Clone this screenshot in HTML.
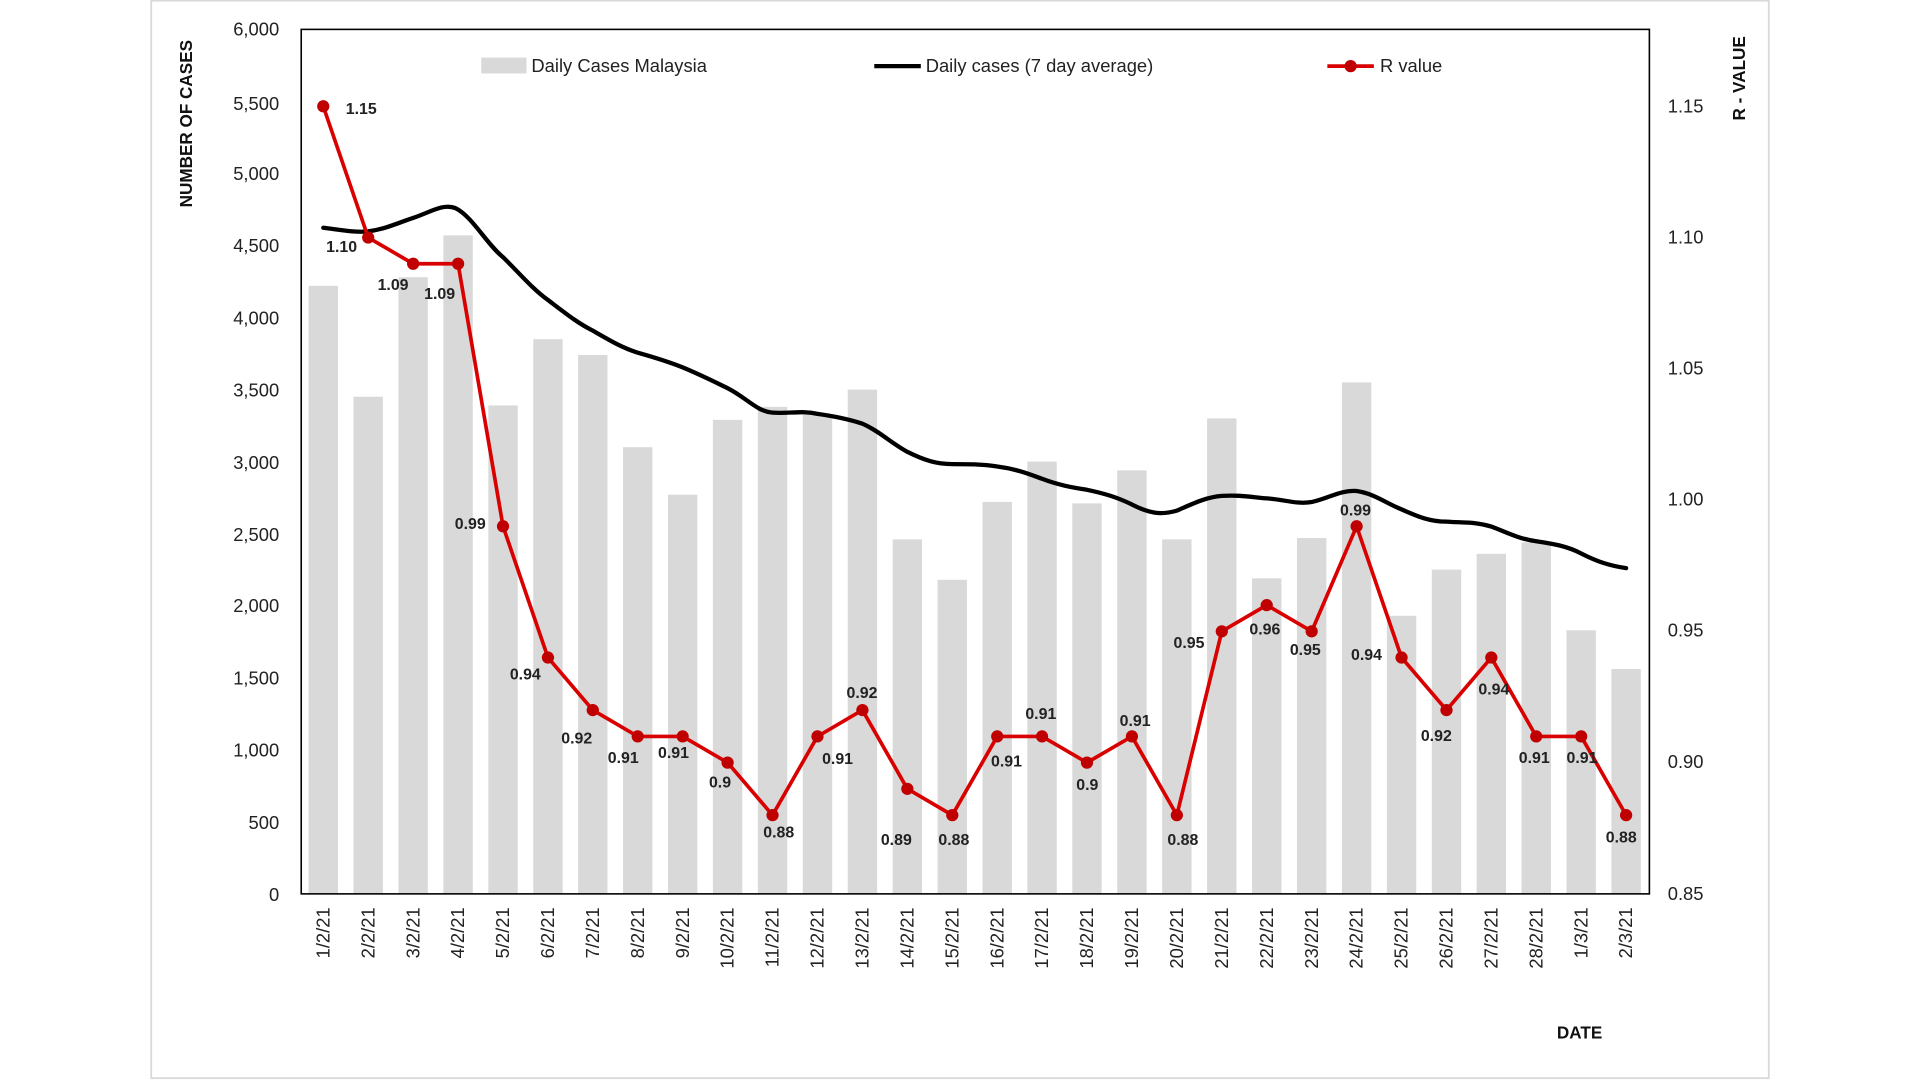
<!DOCTYPE html>
<html><head><meta charset="utf-8"><style>html,body{margin:0;padding:0;background:#fff;}svg{display:block}</style></head>
<body>
<svg width="1920" height="1080" viewBox="0 0 1568 882" preserveAspectRatio="none" xmlns="http://www.w3.org/2000/svg" font-family="Liberation Sans, sans-serif">
<rect x="0" y="0" width="1568" height="882" fill="#fff"/>
<rect x="123.5" y="0.5" width="1321" height="880" fill="#fff" stroke="#d9d9d9" stroke-width="1.5"/>
<!-- bars -->
<g fill="#d9d9d9">
<rect x="252" y="233.4" width="24" height="496.6"/>
<rect x="288.7" y="324" width="24" height="406"/>
<rect x="325.4" y="226.4" width="24" height="503.6"/>
<rect x="362.1" y="192.2" width="24" height="537.8"/>
<rect x="398.8" y="331.1" width="24" height="398.9"/>
<rect x="435.5" y="277" width="24" height="453"/>
<rect x="472.1" y="289.9" width="24" height="440.1"/>
<rect x="508.8" y="365.2" width="24" height="364.8"/>
<rect x="545.5" y="404" width="24" height="326"/>
<rect x="582.2" y="342.9" width="24" height="387.1"/>
<rect x="618.9" y="332.3" width="24" height="397.7"/>
<rect x="655.6" y="338.2" width="24" height="391.8"/>
<rect x="692.3" y="318.2" width="24" height="411.8"/>
<rect x="729" y="440.5" width="24" height="289.5"/>
<rect x="765.7" y="473.5" width="24" height="256.5"/>
<rect x="802.4" y="409.9" width="24" height="320.1"/>
<rect x="839" y="377" width="24" height="353"/>
<rect x="875.7" y="411.1" width="24" height="318.9"/>
<rect x="912.4" y="384.1" width="24" height="345.9"/>
<rect x="949.1" y="440.5" width="24" height="289.5"/>
<rect x="985.8" y="341.7" width="24" height="388.3"/>
<rect x="1022.5" y="472.3" width="24" height="257.7"/>
<rect x="1059.2" y="439.4" width="24" height="290.6"/>
<rect x="1095.9" y="312.3" width="24" height="417.7"/>
<rect x="1132.6" y="502.9" width="24" height="227.1"/>
<rect x="1169.3" y="465.2" width="24" height="264.8"/>
<rect x="1205.9" y="452.3" width="24" height="277.7"/>
<rect x="1242.6" y="442.9" width="24" height="287.1"/>
<rect x="1279.3" y="514.7" width="24" height="215.3"/>
<rect x="1316" y="546.4" width="24" height="183.6"/>
</g>
<!-- frame -->
<rect x="246" y="24" width="1101" height="706" fill="none" stroke="#000" stroke-width="1.3"/>
<!-- 7-day avg -->
<path d="M264,186 C280,188 290,190 300.7,189 C315,187 325,182 337.4,178 C352,173 362,166 372,170 C385,176 398,200 410.8,210 C425,224 435,236 447.5,245 C462,256 472,264 484.1,270 C498,278 508,284 520.8,288 C535,292 545,295 557.5,300 C572,306 582,311 594.2,317 C610,325 618,336 630.9,337 C645,338 655,335 667.6,338 C682,340 692,342 704.3,346 C718,352 728,362 741,369 C755,376 765,379 777.7,379 C790,379 802,379 814.4,381 C830,383 840,387 851,391 C864,396 875,398 887.7,400 C902,403 912,406 924.4,412 C938,419 948,421 961.1,417 C975,411 985,406 997.8,405 C1012,404 1022,406 1034.5,407 C1049,408 1059,412 1071.2,410 C1085,407 1095,400 1107.9,401 C1122,403 1132,411 1144.6,416 C1158,422 1168,426 1181.3,426 C1195,427 1205,426 1217.9,430 C1231,435 1240,440 1254.6,442 C1268,444 1280,446 1291.3,452 C1305,459 1315,462 1328,464" fill="none" stroke="#000" stroke-width="3.5" stroke-linecap="round"/>
<!-- R value -->
<polyline points="264,86.8 300.7,194 337.4,215.4 374.1,215.4 410.8,429.8 447.5,537 484.1,579.9 520.8,601.4 557.5,601.4 594.2,622.8 630.9,665.7 667.6,601.4 704.3,579.9 741,644.2 777.7,665.7 814.4,601.4 851,601.4 887.7,622.8 924.4,601.4 961.1,665.7 997.8,515.6 1034.5,494.2 1071.2,515.6 1107.9,429.8 1144.6,537 1181.3,579.9 1217.9,537 1254.6,601.4 1291.3,601.4 1328,665.7" fill="none" stroke="#d90000" stroke-width="3" stroke-linejoin="round"/>
<g fill="#c00000">
<circle cx="264" cy="86.8" r="5"/><circle cx="300.7" cy="194" r="5"/><circle cx="337.4" cy="215.4" r="5"/><circle cx="374.1" cy="215.4" r="5"/><circle cx="410.8" cy="429.8" r="5"/><circle cx="447.5" cy="537" r="5"/><circle cx="484.1" cy="579.9" r="5"/><circle cx="520.8" cy="601.4" r="5"/><circle cx="557.5" cy="601.4" r="5"/><circle cx="594.2" cy="622.8" r="5"/><circle cx="630.9" cy="665.7" r="5"/><circle cx="667.6" cy="601.4" r="5"/><circle cx="704.3" cy="579.9" r="5"/><circle cx="741" cy="644.2" r="5"/><circle cx="777.7" cy="665.7" r="5"/><circle cx="814.4" cy="601.4" r="5"/><circle cx="851" cy="601.4" r="5"/><circle cx="887.7" cy="622.8" r="5"/><circle cx="924.4" cy="601.4" r="5"/><circle cx="961.1" cy="665.7" r="5"/><circle cx="997.8" cy="515.6" r="5"/><circle cx="1034.5" cy="494.2" r="5"/><circle cx="1071.2" cy="515.6" r="5"/><circle cx="1107.9" cy="429.8" r="5"/><circle cx="1144.6" cy="537" r="5"/><circle cx="1181.3" cy="579.9" r="5"/><circle cx="1217.9" cy="537" r="5"/><circle cx="1254.6" cy="601.4" r="5"/><circle cx="1291.3" cy="601.4" r="5"/><circle cx="1328" cy="665.7" r="5"/>
</g>
<!-- data labels -->
<g font-size="13" font-weight="bold" fill="#222" text-anchor="middle">
<text x="295" y="93">1.15</text><text x="279" y="206">1.10</text><text x="321" y="237">1.09</text><text x="359" y="244">1.09</text>
<text x="384" y="432">0.99</text><text x="429" y="555">0.94</text><text x="471" y="607">0.92</text><text x="509" y="623">0.91</text>
<text x="550" y="619">0.91</text><text x="588" y="643">0.9</text><text x="636" y="684">0.88</text><text x="684" y="624">0.91</text>
<text x="704" y="570">0.92</text><text x="732" y="690">0.89</text><text x="779" y="690">0.88</text><text x="822" y="626">0.91</text>
<text x="850" y="587">0.91</text><text x="888" y="645">0.9</text><text x="927" y="593">0.91</text><text x="966" y="690">0.88</text>
<text x="971" y="529">0.95</text><text x="1033" y="518">0.96</text><text x="1066" y="535">0.95</text><text x="1107" y="421">0.99</text>
<text x="1116" y="539">0.94</text><text x="1173" y="605">0.92</text><text x="1220" y="567">0.94</text><text x="1253" y="623">0.91</text>
<text x="1292" y="623">0.91</text><text x="1324" y="688">0.88</text>
</g>
<!-- left axis -->
<g font-size="15" fill="#222" text-anchor="end">
<text x="228" y="29">6,000</text><text x="228" y="90">5,500</text><text x="228" y="147">5,000</text><text x="228" y="206">4,500</text>
<text x="228" y="265">4,000</text><text x="228" y="324">3,500</text><text x="228" y="383">3,000</text><text x="228" y="442">2,500</text>
<text x="228" y="500">2,000</text><text x="228" y="559">1,500</text><text x="228" y="618">1,000</text><text x="228" y="677">500</text><text x="228" y="736">0</text>
</g>
<g font-size="15" fill="#222">
<text x="1362" y="92">1.15</text><text x="1362" y="199">1.10</text><text x="1362" y="306">1.05</text><text x="1362" y="413">1.00</text>
<text x="1362" y="520">0.95</text><text x="1362" y="627">0.90</text><text x="1362" y="735">0.85</text>
</g>
<!-- x labels -->
<g font-size="15" fill="#222" text-anchor="end">
<text transform="translate(269,741) rotate(-90)">1/2/21</text><text transform="translate(305.7,741) rotate(-90)">2/2/21</text><text transform="translate(342.4,741) rotate(-90)">3/2/21</text><text transform="translate(379.1,741) rotate(-90)">4/2/21</text><text transform="translate(415.8,741) rotate(-90)">5/2/21</text><text transform="translate(452.5,741) rotate(-90)">6/2/21</text><text transform="translate(489.1,741) rotate(-90)">7/2/21</text><text transform="translate(525.8,741) rotate(-90)">8/2/21</text><text transform="translate(562.5,741) rotate(-90)">9/2/21</text><text transform="translate(599.2,741) rotate(-90)">10/2/21</text><text transform="translate(635.9,741) rotate(-90)">11/2/21</text><text transform="translate(672.6,741) rotate(-90)">12/2/21</text><text transform="translate(709.3,741) rotate(-90)">13/2/21</text><text transform="translate(746,741) rotate(-90)">14/2/21</text><text transform="translate(782.7,741) rotate(-90)">15/2/21</text><text transform="translate(819.4,741) rotate(-90)">16/2/21</text><text transform="translate(856,741) rotate(-90)">17/2/21</text><text transform="translate(892.7,741) rotate(-90)">18/2/21</text><text transform="translate(929.4,741) rotate(-90)">19/2/21</text><text transform="translate(966.1,741) rotate(-90)">20/2/21</text><text transform="translate(1002.8,741) rotate(-90)">21/2/21</text><text transform="translate(1039.5,741) rotate(-90)">22/2/21</text><text transform="translate(1076.2,741) rotate(-90)">23/2/21</text><text transform="translate(1112.9,741) rotate(-90)">24/2/21</text><text transform="translate(1149.6,741) rotate(-90)">25/2/21</text><text transform="translate(1186.3,741) rotate(-90)">26/2/21</text><text transform="translate(1222.9,741) rotate(-90)">27/2/21</text><text transform="translate(1259.6,741) rotate(-90)">28/2/21</text><text transform="translate(1296.3,741) rotate(-90)">1/3/21</text><text transform="translate(1333,741) rotate(-90)">2/3/21</text>
</g>
<!-- titles -->
<text transform="translate(157,101) rotate(-90)" font-size="14" font-weight="bold" text-anchor="middle" fill="#111">NUMBER  OF CASES</text>
<text transform="translate(1425,64) rotate(-90)" font-size="14" font-weight="bold" text-anchor="middle" fill="#111">R - VALUE</text>
<text x="1290" y="848" font-size="14" font-weight="bold" text-anchor="middle" fill="#111">DATE</text>
<!-- legend -->
<rect x="393" y="47" width="37" height="13" fill="#d9d9d9"/>
<text x="434" y="59" font-size="15" fill="#222">Daily Cases Malaysia</text>
<line x1="714" y1="54" x2="752" y2="54" stroke="#000" stroke-width="3.5"/>
<text x="756" y="59" font-size="15" fill="#222">Daily cases (7 day average)</text>
<line x1="1084" y1="54" x2="1122" y2="54" stroke="#d90000" stroke-width="3"/>
<circle cx="1103" cy="54" r="5" fill="#c00000"/>
<text x="1127" y="59" font-size="15" fill="#222">R value</text>
</svg>
</body></html>
